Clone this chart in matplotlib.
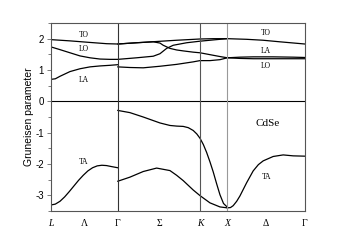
import matplotlib
matplotlib.use("Agg")
import matplotlib.pyplot as plt
from matplotlib.ticker import MultipleLocator

# high-symmetry points along the path (units of 2*pi/a)
sym_pos = [0.0, 0.866, 1.927, 2.280, 3.280]
tick_pos = [0.0, 0.433, 0.866, 1.397, 1.927, 2.280, 2.780, 3.280]
tick_lbl = ["L", "Λ", "Γ", "Σ", "K", "X", "Δ", "Γ"]
tick_italic = [True, False, False, False, True, True, False, False]

# ---- optical / LA branches (upper part) ----
to1_x = [0.0, 0.249, 0.507, 0.722, 0.866, 1.109, 1.367, 1.625, 1.927, 2.1, 2.280, 2.528, 2.742, 2.958, 3.280]
to1_y = [1.97, 1.93, 1.88, 1.84, 1.83, 1.87, 1.91, 1.95, 1.99, 2.0, 2.0, 1.98, 1.95, 1.90, 1.83]

to2_x = [0.866, 1.109, 1.323, 1.410, 1.452, 1.539, 1.625, 1.710, 1.839, 1.927, 2.055, 2.184, 2.280,
         2.442, 2.613, 2.871, 3.280]
to2_y = [1.83, 1.87, 1.90, 1.86, 1.79, 1.69, 1.64, 1.61, 1.57, 1.55, 1.49, 1.43, 1.39,
         1.37, 1.36, 1.36, 1.36]

lo_x = [0.0, 0.120, 0.249, 0.378, 0.507, 0.636, 0.765, 0.866, 1.109, 1.323, 1.410, 1.496, 1.581,
        1.754, 1.927, 2.055, 2.184, 2.280]
lo_y = [1.74, 1.65, 1.55, 1.45, 1.39, 1.35, 1.34, 1.34, 1.39, 1.44, 1.52, 1.69, 1.79,
        1.87, 1.92, 1.95, 1.98, 2.0]

la_lam_x = [0.0, 0.06, 0.120, 0.249, 0.378, 0.507, 0.636, 0.765, 0.866]
la_lam_y = [0.70, 0.72, 0.80, 0.95, 1.04, 1.10, 1.13, 1.15, 1.17]

la_x = [0.866, 1.022, 1.194, 1.410, 1.625, 1.839, 1.927, 2.055, 2.184, 2.280,
        2.442, 2.613, 2.871, 3.129, 3.280]
la_y = [1.10, 1.08, 1.07, 1.12, 1.18, 1.26, 1.30, 1.30, 1.33, 1.39,
        1.41, 1.42, 1.42, 1.41, 1.40]

# ---- TA branches (lower part) ----
ta_lam_x = [0.0, 0.06, 0.12, 0.18, 0.24, 0.30, 0.36, 0.42, 0.48, 0.54, 0.60, 0.66, 0.72, 0.78, 0.866]
ta_lam_y = [-3.31, -3.28, -3.19, -3.05, -2.88, -2.70, -2.52, -2.36, -2.22, -2.12, -2.06, -2.04,
            -2.05, -2.08, -2.12]

ta1_x = [0.866, 1.022, 1.194, 1.410, 1.539, 1.625, 1.710, 1.775, 1.839, 1.885, 1.927, 1.97, 2.012,
         2.055, 2.097, 2.140, 2.184, 2.230, 2.280]
ta1_y = [-0.29, -0.36, -0.50, -0.69, -0.77, -0.79, -0.80, -0.84, -0.93, -1.04, -1.18, -1.38, -1.63,
         -1.93, -2.25, -2.62, -2.98, -3.26, -3.38]

ta2_x = [0.866, 1.022, 1.194, 1.367, 1.539, 1.625, 1.710, 1.839, 1.927, 2.055, 2.184, 2.280]
ta2_y = [-2.55, -2.42, -2.24, -2.13, -2.21, -2.36, -2.53, -2.83, -3.01, -3.24, -3.37, -3.40]

ta_del_x = [2.280, 2.320, 2.355, 2.400, 2.442, 2.528, 2.613, 2.680, 2.742, 2.871, 3.000, 3.129, 3.280]
ta_del_y = [-3.40, -3.39, -3.33, -3.19, -3.02, -2.60, -2.22, -2.02, -1.90, -1.76, -1.71, -1.74, -1.75]

serif = ["Liberation Serif", "DejaVu Serif"]
sans = ["Liberation Sans", "DejaVu Sans"]

fig = plt.figure(figsize=(3.38, 2.41), dpi=100)
ax = fig.add_axes([0.150, 0.1245, 0.752, 0.780])

lw = 0.9
for xs, ys in [(to1_x, to1_y), (to2_x, to2_y), (lo_x, lo_y), (la_lam_x, la_lam_y), (la_x, la_y),
               (ta_lam_x, ta_lam_y), (ta1_x, ta1_y), (ta2_x, ta2_y), (ta_del_x, ta_del_y)]:
    ax.plot(xs, ys, color="black", lw=lw)

# guide lines
ax.axhline(0, color="black", lw=0.8)
ax.axvline(sym_pos[1], color="#333333", lw=0.8)
ax.axvline(sym_pos[2], color="#555555", lw=0.8)
ax.axvline(sym_pos[3], color="#999999", lw=0.8)

ax.set_xlim(sym_pos[0], sym_pos[-1])
ax.set_ylim(-3.5, 2.5)

ax.set_xticks(tick_pos)
labels = ax.set_xticklabels(tick_lbl, family=serif, fontsize=7)
for lab, it in zip(labels, tick_italic):
    if it:
        lab.set_fontstyle("italic")
ax.tick_params(axis="x", length=0, pad=6)
ax.set_yticks([-3, -2, -1, 0, 1, 2])
ax.set_yticklabels(["-3", "-2", "-1", "0", "1", "2"], family=sans, fontsize=7)
ax.yaxis.set_minor_locator(MultipleLocator(0.5))
ax.tick_params(axis="y", which="major", length=3, width=0.6, color="#666666", pad=2)
ax.tick_params(axis="y", which="minor", length=2, width=0.6, color="#666666")
ax.set_ylabel("Gruneisen parameter", family=sans, fontsize=7.5, labelpad=1)

for s in ax.spines.values():
    s.set_color("#555555")
    s.set_linewidth(0.8)

# branch labels
txt = dict(family=serif, fontsize=5.5, ha="center", va="center")
ax.text(0.43, 2.13, "TO", **txt)
ax.text(0.43, 1.66, "LO", **txt)
ax.text(0.43, 0.67, "LA", **txt)
ax.text(2.77, 2.17, "TO", **txt)
ax.text(2.77, 1.61, "LA", **txt)
ax.text(2.77, 1.13, "LO", **txt)
ax.text(0.42, -1.94, "TA", **txt)
ax.text(2.79, -2.42, "TA", **txt)
ax.text(2.80, -0.70, "CdSe", family=serif, fontsize=8, ha="center", va="center")

fig.savefig("out.png", dpi=100)
